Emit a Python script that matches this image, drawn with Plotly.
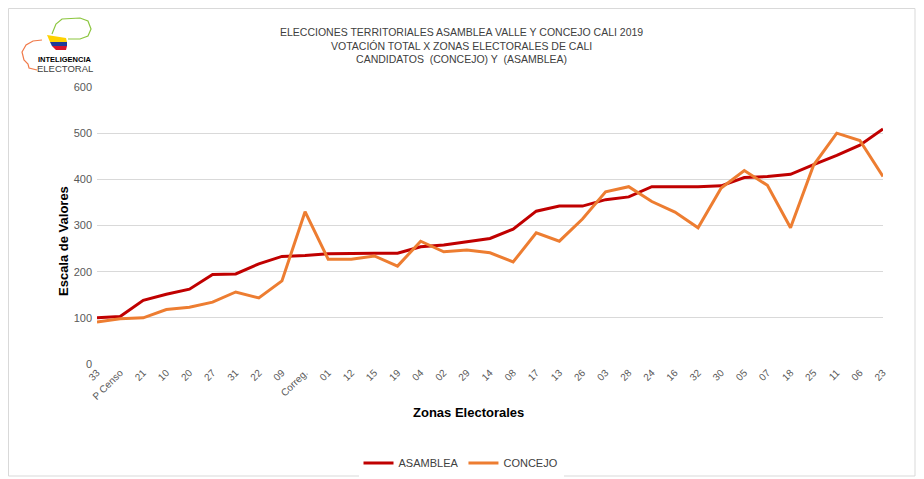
import plotly.graph_objects as go

# Data
zonas = ["33", "P Censo", "21", "10", "20", "27", "31", "22", "09", "Correg.",
         "01", "12", "15", "19", "04", "02", "29", "14", "08", "17",
         "13", "26", "03", "28", "24", "16", "32", "30", "05", "07",
         "18", "25", "11", "06", "23"]
asamblea = [100, 103, 138, 151, 162, 194, 195, 217, 233, 235,
            239, 240, 240, 240, 254, 258, 265, 272, 292, 331,
            342, 342, 356, 362, 384, 384, 384, 386, 404, 406,
            411, 432, 452, 474, 509]
concejo = [91, 98, 100, 118, 123, 134, 156, 143, 180, 330,
           227, 227, 234, 212, 266, 243, 247, 241, 221, 284,
           266, 314, 373, 384, 352, 329, 295, 381, 419, 387,
           295, 431, 500, 484, 406]

# the page body has an 8px margin, so the figure is drawn 8px in from the window corner
OFF = 8
W, H = 924 - OFF, 479 - OFF
L, T = 97 - OFF, 87 - OFF
R = W - (883 - OFF)
B = H - (364 - OFF)
pw, ph = W - L - R, H - T - B

def px(x):
    # window pixel -> paper x
    return (x - OFF - L) / pw

def py(y):
    # window pixel -> paper y
    return (H - B - (y - OFF)) / ph

def path(points, close=True):
    s = "M " + " L ".join(f"{px(x):.4f},{py(y):.4f}" for x, y in points)
    return s + (" Z" if close else "")

def label(text, x, y, size, color, family="Liberation Sans", angle=0):
    return dict(text=text, x=px(x), y=py(y), xref="paper", yref="paper",
                xanchor="center", yanchor="middle", showarrow=False, textangle=angle,
                font=dict(family=family, size=size, color=color), align="center")

narrow = "Liberation Sans Narrow, Liberation Sans, Arial"
grey = "#595959"

fig = go.Figure()
fig.add_trace(go.Scatter(x=zonas, y=asamblea, mode="lines", name="ASAMBLEA",
                         line=dict(color="#C00000", width=3)))
fig.add_trace(go.Scatter(x=zonas, y=concejo, mode="lines", name="CONCEJO",
                         line=dict(color="#ED7D31", width=3)))

shapes = [
    # chart border
    dict(type="rect", xref="paper", yref="paper", x0=px(8.5), x1=px(915), y0=py(476), y1=py(8.5),
         line=dict(color="#D9D9D9", width=1), layer="below"),
    # logo: head outline
    dict(type="path", xref="paper", yref="paper",
         path=path([(42, 40), (33, 41), (26, 45), (22, 52), (24, 60), (28, 64), (29, 68), (37, 70)], False),
         line=dict(color="#F07A4A", width=1.2)),
    # logo: hand outline
    dict(type="path", xref="paper", yref="paper",
         path=path([(52, 34), (56, 24), (62, 19), (80, 18), (88, 21), (91, 29), (88, 36), (80, 39), (68, 39)], False),
         line=dict(color="#8CC63F", width=1.2)),
    # logo: flag
    dict(type="path", xref="paper", yref="paper", path=path([(47, 35), (66, 38), (67, 42), (50, 42)]),
         fillcolor="#FFD200", line=dict(width=0)),
    dict(type="path", xref="paper", yref="paper", path=path([(50, 42), (67, 42), (67, 46), (52, 46)]),
         fillcolor="#1F3C99", line=dict(width=0)),
    dict(type="path", xref="paper", yref="paper", path=path([(52, 46), (67, 46), (66, 50), (56, 50)]),
         fillcolor="#D7142B", line=dict(width=0)),
]

annotations = [
    label("ELECCIONES TERRITORIALES ASAMBLEA VALLE Y CONCEJO CALI 2019<br>"
          "VOTACIÓN TOTAL X ZONAS ELECTORALES DE CALI<br>"
          "CANDIDATOS  (CONCEJO) Y  (ASAMBLEA)", 461, 45, 10.5, "#404040", narrow),
    label("<b>Zonas Electorales</b>", 468, 412, 13, "#000000"),
    label("<b>Escala de Valores</b>", 63, 241, 13, "#000000", narrow, -90),
    label("<b>INTELIGENCIA</b>", 65, 60, 7.5, "#000000", narrow),
    label("ELECTORAL", 65, 69, 9.5, "#404040", narrow),
]

fig.update_layout(
    width=W, height=H,
    margin=dict(l=L, r=R, t=T, b=B, autoexpand=False),
    paper_bgcolor="white", plot_bgcolor="white",
    font=dict(family="Liberation Sans", color=grey),
    xaxis=dict(type="category", tickangle=-45, tickfont=dict(size=10, color=grey),
               showgrid=False, showline=False, ticks=""),
    yaxis=dict(range=[0, 600], dtick=100, showgrid=True, gridcolor="#D9D9D9", gridwidth=1,
               zeroline=False, tickfont=dict(size=11, color=grey), ticks="", ticklen=0,
               ticklabelstandoff=4),
    legend=dict(orientation="h", xref="container", yref="container",
                x=(461 - OFF) / W, xanchor="center", y=1 - (463 - OFF) / H, yanchor="middle",
                font=dict(family=narrow, size=11, color="#404040")),
    shapes=shapes,
    annotations=annotations,
)

fig.write_html("out.html")
